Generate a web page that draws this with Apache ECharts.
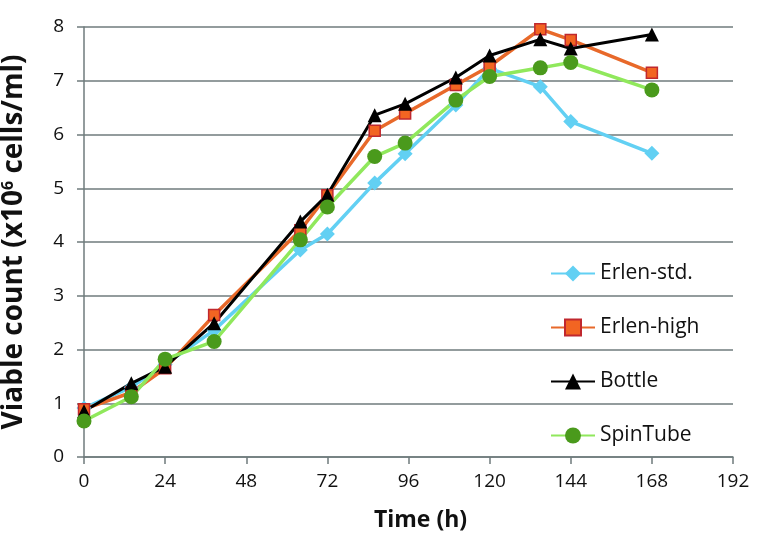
<!DOCTYPE html>
<html>
<head>
<meta charset="utf-8">
<script src="https://cdn.jsdelivr.net/npm/echarts@6/dist/echarts.min.js"></script>
<style>
    html, body { margin: 0; padding: 0; background: #fff; }
    #main { width: 757px; height: 542px; }
</style>
</head>
<body>
<div id="main"></div>
<script>
// 采样时间 (h)
var times = [0, 14, 24, 38.5, 64, 72, 86, 95, 110, 120, 135, 144, 168];
var xTicks = [0, 24, 48, 72, 96, 120, 144, 168, 192];
var yTicks = [0, 1, 2, 3, 4, 5, 6, 7, 8];

var erlenStd = [0.91, 1.30, 1.72, 2.36, 3.85, 4.15, 5.10, 5.64, 6.55, 7.23, 6.89, 6.24, 5.65];
var erlenHigh = [0.89, 1.20, 1.65, 2.64, 4.22, 4.87, 6.07, 6.39, 6.92, 7.27, 7.96, 7.76, 7.15];
var bottle = [0.85, 1.37, 1.68, 2.49, 4.38, 4.88, 6.36, 6.57, 7.06, 7.47, 7.77, 7.60, 7.86];
var spinTube = [0.67, 1.12, 1.82, 2.15, 4.04, 4.65, 5.59, 5.84, 6.64, 7.08, 7.24, 7.34, 6.83];

//把时间和数值拼成点
function pairs(values) {
    var data = [];
    for (var i = 0; i < times.length; i++) {
        data.push([times[i], values[i]]);
    }
    return data;
}

var font = "'Open Sans', 'Noto Sans', sans-serif";
var gridColor = '#6f7b7c';

var myChart = echarts.init(document.getElementById('main'));
var option = {
    animation: false,
    grid: { left: 84, right: 24, top: 27, bottom: 85, containLabel: false, outerBoundsMode: 'none' },
    legend: {
        orient: 'vertical',
        left: 545,
        top: 258,
        itemWidth: 44,
        itemHeight: 20,
        itemGap: 33,
        textStyle: { fontFamily: font, fontSize: 21, color: '#111' },
        data: ['Erlen-std.', 'Erlen-high', 'Bottle', 'SpinTube']
    },
    xAxis: {
        type: 'value',
        min: xTicks[0],
        max: xTicks[xTicks.length - 1],
        interval: 24,
        name: 'Time (h)',
        nameLocation: 'middle',
        nameGap: 52,
        nameTextStyle: { fontFamily: font, fontSize: 23, fontWeight: 'bold', color: '#111', padding: [0, 0, 0, 24] },
        axisLine: { lineStyle: { color: gridColor, width: 1.5 } },
        axisTick: { show: true, length: 7, lineStyle: { color: gridColor, width: 1.5 } },
        axisLabel: { fontFamily: font, fontSize: 19, color: '#111', margin: 15 },
        splitLine: { show: false }
    },
    yAxis: {
        type: 'value',
        min: yTicks[0],
        max: yTicks[yTicks.length - 1],
        interval: 1,
        name: 'Viable count (x10{sup|6} cells/ml)',
        nameLocation: 'middle',
        nameGap: 56,
        nameTextStyle: {
            fontFamily: font, fontSize: 28, fontWeight: 'bold', color: '#111',
            rich: { sup: { fontFamily: font, fontSize: 16, fontWeight: 'bold', color: '#111', verticalAlign: 'top', padding: [0, 0, 12, 0] } }
        },
        axisLine: { show: true, lineStyle: { color: gridColor, width: 1.5 } },
        axisTick: { show: true, length: 7, lineStyle: { color: gridColor, width: 1.5 } },
        axisLabel: { fontFamily: font, fontSize: 19, color: '#111', margin: 20 },
        splitLine: { show: true, lineStyle: { color: gridColor, width: 1.5 } }
    },
    series: [
        {
            name: 'Erlen-std.',
            type: 'line',
            data: pairs(erlenStd),
            symbol: 'diamond',
            symbolSize: 15,
            lineStyle: { color: '#62d0f3', width: 3.5 },
            itemStyle: { color: '#62d0f3' }
        },
        {
            name: 'Erlen-high',
            type: 'line',
            data: pairs(erlenHigh),
            symbol: 'rect',
            symbolSize: 11,
            lineStyle: { color: '#e8692a', width: 3.5 },
            itemStyle: { color: '#f26522', borderColor: '#c0282e', borderWidth: 1.5 }
        },
        {
            name: 'Bottle',
            type: 'line',
            data: pairs(bottle),
            symbol: 'triangle',
            symbolSize: 14,
            lineStyle: { color: '#000', width: 3 },
            itemStyle: { color: '#000' }
        },
        {
            name: 'SpinTube',
            type: 'line',
            data: pairs(spinTube),
            symbol: 'circle',
            symbolSize: 15,
            lineStyle: { color: '#90e85c', width: 3.5 },
            itemStyle: { color: '#4a9a1c' }
        }
    ]
};
myChart.setOption(option);
</script>
</body>
</html>
